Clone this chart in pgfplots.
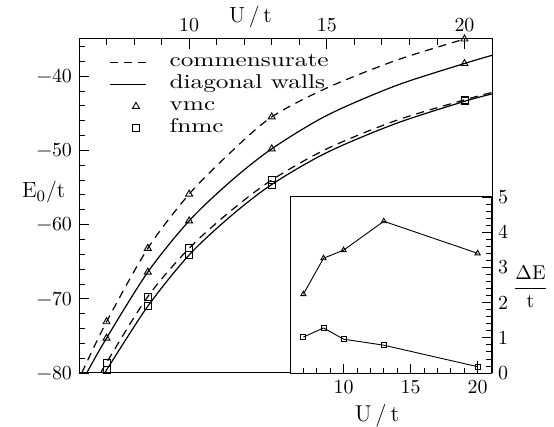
\documentclass[border=0pt]{standalone}
\usepackage{fontspec}
\usepackage{graphicx}
\usepackage{pgfplots}
\pgfplotsset{compat=1.18}
\newcommand\wide[1]{\scalebox{1.27}[1]{#1}}
\begin{document}
\begin{tikzpicture}
\path[use as bounding box] (0,0) rectangle (277bp,213.5bp);
% main panel
\begin{axis}[
  at={(39.5bp,27bp)}, anchor=south west,
  scale only axis, width=206.5bp, height=167bp,
  xmin=6, xmax=21, ymin=-80, ymax=-35,
  xtick={10,15,20}, minor xtick={6,...,21},
  xticklabels={10,15,20},
  ytick={-80,-70,...,-40}, minor ytick={-80,-78,...,-36},
  yticklabels={−80,−70,−60,−50,−40},
  xtick pos=right, xticklabel pos=right, ytick pos=left,
  tick align=inside,
  major tick length=5bp, minor tick length=3bp,
  tick style={black, line width=0.4bp},
  axis line style={line width=0.5bp},
  tick label style={font=\fontsize{10}{12}\selectfont},
  xlabel={U\,/\,t},
  xlabel style={font=\fontsize{11}{13}\selectfont, at={(axis description cs:0.415,1)}, anchor=base, yshift=8.5bp},
  ylabel={E$_0$/t},
  ylabel style={font=\fontsize{11}{13}\selectfont, rotate=-90, at={(axis description cs:0,0.524)}, anchor=base west, xshift=-32bp},
  legend style={draw=none, fill=none, at={(axis description cs:0,1)}, anchor=north west,
    xshift=12bp, yshift=-4bp, legend cell align=left,
    font=\fontsize{10}{12}\selectfont,
    nodes={text height=6.25bp, text depth=1.75bp, inner sep=1.5bp},
    /tikz/every odd column/.append style={column sep=10bp}},
  legend image code/.code={\draw[mark repeat=2, mark phase=2, #1] plot coordinates {(0bp,0bp) (13bp,0bp) (18bp,0bp)};},
]
% commensurate, vmc
\addplot[black, line width=0.6bp, dash pattern=on 4bp off 3bp, smooth] coordinates {
(6.1,-80) (7,-73.1) (8.5,-63.2) (10,-55.9) (11.5,-50.3) (13,-45.5) (15,-41.6) (17.5,-37.9) (20,-35.0) (21,-33.9)};
% diagonal walls, vmc
\addplot[black, line width=0.6bp, smooth] coordinates {
(6.28,-80) (7,-75.3) (8.5,-66.4) (10,-59.5) (11.5,-54.2) (13,-49.8) (15,-45.3) (17.5,-41.3) (20,-38.3) (21,-37.2)};
\addplot[black, only marks, mark=triangle, mark size=2bp, mark options={line width=0.45bp}] coordinates {
(7,-73.1) (8.5,-63.2) (10,-55.9) (13,-45.5)
(7,-75.3) (8.5,-66.4) (10,-59.5) (13,-49.8) (20,-38.3)};
\addplot[black, only marks, mark=square, mark size=1.75bp, mark options={line width=0.45bp}] coordinates {
(7,-78.6) (8.5,-69.7) (10,-63.2) (13,-54.0) (20,-43.2)
(7,-79.6) (8.5,-71.0) (10,-64.1) (13,-54.6) (20,-43.4)};
\legend{\wide{commensurate},\wide{diagonal walls},\wide{vmc},\wide{fnmc}}
% commensurate, fnmc
\addplot[forget plot, black, line width=0.6bp, dash pattern=on 4bp off 3bp, smooth] coordinates {
(6.8,-80) (7,-78.6) (8.5,-69.7) (10,-63.2) (11.5,-58.2) (13,-54.0) (15,-49.8) (17.5,-46.0) (20,-43.2) (21,-42.2)};
% diagonal walls, fnmc
\addplot[forget plot, black, line width=0.6bp, smooth] coordinates {
(6.9,-80.2) (7,-79.6) (8.5,-71.0) (10,-64.1) (11.5,-58.9) (13,-54.6) (15,-50.3) (17.5,-46.4) (20,-43.4) (21,-42.4)};
% vmc point at U/t=20 with its error bar
\addplot[forget plot, black, only marks, mark=triangle, mark size=2bp, mark options={line width=0.45bp},
  error bars/.cd, y dir=both, y explicit, error bar style={line width=0.45bp}, error mark=none]
  coordinates {(20,-35.0) +- (0,1.3)};
\end{axis}
% inset
\begin{axis}[
  at={(145bp,27bp)}, anchor=south west,
  scale only axis, width=100.5bp, height=88bp,
  xmin=6, xmax=21, ymin=0, ymax=5,
  axis background/.style={fill=white},
  xtick={10,15,20}, minor xtick={6,...,21}, xticklabels={10,15,20},
  ytick={0,...,5}, minor ytick={0,0.2,...,5}, yticklabels={0,1,2,3,4,5},
  xtick pos=left, ytick pos=right, yticklabel pos=right,
  tick align=inside,
  major tick length=4.5bp, minor tick length=2.5bp,
  tick style={black, line width=0.4bp},
  axis line style={line width=0.5bp},
  tick label style={font=\fontsize{10}{12}\selectfont},
  xlabel={U\,/\,t},
  xlabel style={font=\fontsize{11.5}{14}\selectfont, at={(axis description cs:0.433,0)}, anchor=base, yshift=-24bp},
  ylabel={$\displaystyle\frac{\Delta\mathrm{E}}{\mathrm{t}}$},
  ylabel style={font=\fontsize{10}{12}\selectfont, rotate=-90, at={(axis description cs:1,0.49)}, anchor=west, xshift=7.5bp},
]
\addplot[black, line width=0.45bp, mark=triangle, mark size=1.5bp, mark options={solid}] coordinates {
(7,2.24) (8.5,3.26) (10,3.49) (13,4.31) (20,3.40)};
\addplot[black, line width=0.45bp, mark=square, mark size=1.25bp, mark options={solid},
  error bars/.cd, y dir=both, y explicit, error bar style={line width=0.45bp}, error mark=none]
  coordinates {(7,1.02) (8.5,1.28) (10,0.96) (13,0.79) (20,0.18) +- (0,0.15)};
\end{axis}
\end{tikzpicture}
\end{document}
